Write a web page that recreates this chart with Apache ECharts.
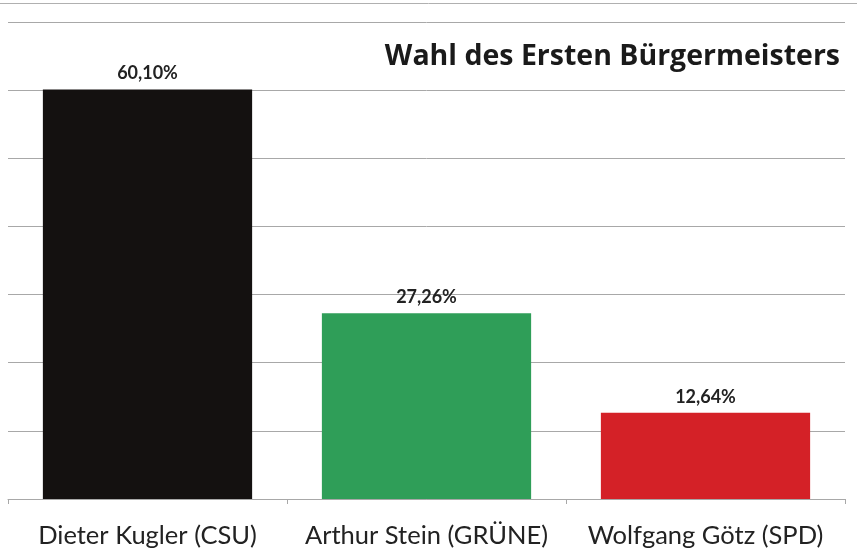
<!DOCTYPE html>
<html>
<head>
<meta charset="utf-8">
<script src="https://cdn.jsdelivr.net/npm/echarts@6/dist/echarts.min.js"></script>
<style>html,body{margin:0;padding:0;background:#fff;}#c{width:857px;height:554px;}</style>
</head>
<body>
<div id="c"></div>
<script>
const categories = ['Dieter Kugler (CSU)', 'Arthur Stein (GRÜNE)', 'Wolfgang Götz (SPD)'];
const values = [60.10, 27.26, 12.64];
const barColors = ['#141110', '#2f9e58', '#d42127'];
const titleText = 'Wahl des Ersten Bürgermeisters';

const chart = echarts.init(document.getElementById('c'), null, {renderer: 'canvas'});
chart.setOption({
  animation: false,
  backgroundColor: '#ffffff',
  title: {
    text: titleText,
    right: 12,
    top: 37,
    textStyle: {fontFamily: 'Open Sans', fontWeight: 'bold', fontSize: 28.5, color: '#1a1a1a'}
  },
  graphic: [{
    type: 'line',
    shape: {x1: 0, y1: 3.5, x2: 857, y2: 3.5},
    style: {stroke: '#b0b0b0', lineWidth: 1}
  }],
  grid: {left: 8, right: 12, top: 22, bottom: 55},
  xAxis: {
    type: 'category',
    data: categories,
    axisLine: {show: true, lineStyle: {color: '#a8a8a8', width: 1}},
    axisTick: {show: true, length: 5, lineStyle: {color: '#a8a8a8'}},
    axisLabel: {interval: 0, fontFamily: 'Lato', fontSize: 25.5, color: '#222', margin: 24}
  },
  yAxis: {
    type: 'value',
    min: 0, max: 70, interval: 10,
    axisLabel: {show: false},
    axisLine: {show: false},
    axisTick: {show: false},
    splitLine: {lineStyle: {color: '#a8a8a8', width: 1}}
  },
  series: [{
    type: 'bar',
    barWidth: '75%',
    data: values.map((v, i) => ({value: v, itemStyle: {color: barColors[i]}})),
    label: {
      show: true,
      position: 'top',
      distance: 7,
      fontFamily: 'Lato',
      fontWeight: 'bold',
      fontSize: 18,
      color: '#222',
      formatter: p => p.value.toFixed(2).replace('.', ',') + '%'
    }
  }]
});
</script>
</body>
</html>
